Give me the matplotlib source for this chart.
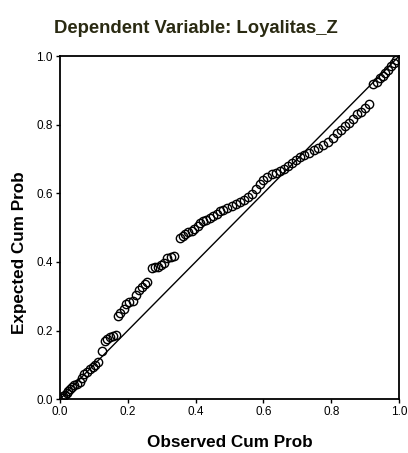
import numpy as np
import matplotlib
matplotlib.use("Agg")
import matplotlib.pyplot as plt

# P-P plot points
observed = [0.005, 0.010, 0.015, 0.020, 0.025, 0.030, 0.036, 0.042, 0.050, 0.058,
            0.065, 0.072, 0.080, 0.088, 0.096, 0.104, 0.112, 0.124, 0.132, 0.140,
            0.148, 0.156, 0.164, 0.170, 0.178, 0.188, 0.196, 0.204, 0.214, 0.224,
            0.234, 0.242, 0.250, 0.258, 0.272, 0.280, 0.288, 0.298, 0.308, 0.316,
            0.326, 0.336, 0.354, 0.362, 0.370, 0.378, 0.388, 0.396, 0.406, 0.414,
            0.422, 0.432, 0.442, 0.452, 0.462, 0.472, 0.482, 0.494, 0.506, 0.518,
            0.530, 0.542, 0.554, 0.566, 0.578, 0.590, 0.600, 0.612, 0.624, 0.636,
            0.648, 0.660, 0.672, 0.684, 0.696, 0.708, 0.720, 0.734, 0.748, 0.762,
            0.776, 0.790, 0.804, 0.816, 0.828, 0.840, 0.852, 0.864, 0.876, 0.888,
            0.900, 0.912, 0.924, 0.934, 0.944, 0.952, 0.960, 0.968, 0.976, 0.984,
            0.990]
expected = [0.003, 0.008, 0.012, 0.018, 0.024, 0.028, 0.034, 0.040, 0.045, 0.050,
            0.062, 0.072, 0.080, 0.088, 0.093, 0.100, 0.108, 0.140, 0.168, 0.175,
            0.180, 0.184, 0.188, 0.243, 0.250, 0.262, 0.278, 0.282, 0.285, 0.305,
            0.318, 0.328, 0.335, 0.340, 0.383, 0.385, 0.386, 0.390, 0.396, 0.412,
            0.415, 0.416, 0.470, 0.476, 0.482, 0.486, 0.490, 0.496, 0.505, 0.513,
            0.518, 0.522, 0.528, 0.535, 0.540, 0.548, 0.552, 0.558, 0.563, 0.568,
            0.575, 0.582, 0.588, 0.598, 0.612, 0.628, 0.640, 0.648, 0.655, 0.660,
            0.665, 0.670, 0.680, 0.688, 0.696, 0.705, 0.712, 0.718, 0.725, 0.732,
            0.740, 0.750, 0.762, 0.775, 0.786, 0.795, 0.806, 0.818, 0.830, 0.838,
            0.848, 0.860, 0.918, 0.925, 0.935, 0.942, 0.952, 0.960, 0.972, 0.980,
            0.988]
ticks = [0.0, 0.2, 0.4, 0.6, 0.8, 1.0]
tick_labels = ["0.0", "0.2", "0.4", "0.6", "0.8", "1.0"]

plt.rcParams['font.family'] = ['Liberation Sans', 'DejaVu Sans']

fig = plt.figure(figsize=(4.08, 4.53), dpi=100)
ax = fig.add_axes([0.147, 0.119, 0.831, 0.757])

ax.plot([0, 1], [0, 1], color='black', lw=1.0)
ax.plot(observed, expected, 'o', mfc='none', mec='black', ms=6, mew=1.0)

ax.set_xlim(0, 1)
ax.set_ylim(0, 1)
ax.set_xticks(ticks)
ax.set_xticklabels(tick_labels, fontsize=8.5)
ax.set_yticks(ticks)
ax.set_yticklabels(tick_labels, fontsize=8.5)
ax.tick_params(direction='out', length=3, width=1, pad=2)
for s in ax.spines.values():
    s.set_linewidth(1.3)

ax.set_xlabel('Observed Cum Prob', fontsize=12.3, fontweight='bold')
ax.xaxis.set_label_coords(0.5, -0.105)
ax.set_ylabel('Expected Cum Prob', fontsize=12.3, fontweight='bold')
ax.yaxis.set_label_coords(-0.098, 0.426)
fig.text(0.48, 0.936, 'Dependent Variable: Loyalitas_Z', ha='center', va='center',
         fontsize=13.3, fontweight='bold', color='#2a2a12')

plt.savefig('out.png', dpi=100)
plt.close()
